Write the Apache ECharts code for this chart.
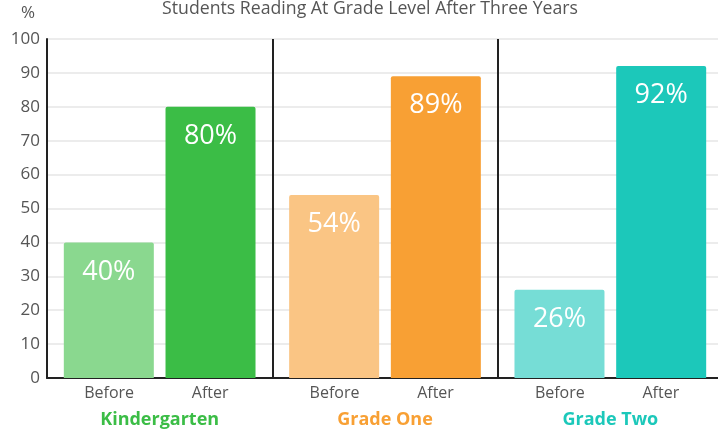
<!DOCTYPE html>
<html><head><meta charset="utf-8">
<script src="https://cdn.jsdelivr.net/npm/echarts@6/dist/echarts.min.js"></script>
<style>html,body{margin:0;padding:0;background:#fff}#c{width:718px;height:431px}</style>
</head><body><div id="c"></div>
<script>
const groups = ['Kindergarten', 'Grade One', 'Grade Two'];
const subLabels = ['Before', 'After'];
const beforeValues = [40, 54, 26];
const afterValues = [80, 89, 92];
const yTicks = [0, 10, 20, 30, 40, 50, 60, 70, 80, 90, 100];
const beforeColors = ['#8ad88f', '#fac584', '#76ddd6'];
const afterColors = ['#3bbd46', '#f8a034', '#1cc8ba'];
const groupColors = ['#3bbd46', '#f8a034', '#1cc8ba'];

const font = 'Open Sans';
const chart = echarts.init(document.getElementById('c'));
const rich = {
  bf: {width: 101, align: 'center', color: '#555', fontSize: 16, fontFamily: font, lineHeight: 22},
  af: {width: 101, align: 'center', color: '#555', fontSize: 16, fontFamily: font, lineHeight: 22}
};
groups.forEach((g, i) => {
  rich['g' + i] = {color: groupColors[i], fontSize: 18, fontWeight: 'bold', fontFamily: font, lineHeight: 32};
});
function mk(vals, colors) {
  return vals.map((v, i) => ({value: v, itemStyle: {color: colors[i]}}));
}
const lbl = {
  show: true, position: 'insideTop', distance: 16, color: '#fff', fontSize: 27,
  fontFamily: font, formatter: p => p.value + '%'
};
chart.setOption({
  animation: false,
  title: {
    text: 'Students Reading At Grade Level After Three Years', left: 365, textAlign: 'center', top: -5,
    textStyle: {color: '#555', fontSize: 17.7, fontWeight: 'normal', fontFamily: font}
  },
  grid: {left: 47, width: 676, top: 39, bottom: 53, containLabel: false, outerBoundsMode: 'none'},
  xAxis: {
    type: 'category', data: groups,
    axisLine: {show: true, lineStyle: {color: '#222', width: 2}},
    axisTick: {show: false},
    splitLine: {show: true, lineStyle: {color: '#222', width: 2}},
    axisLabel: {
      margin: 4, interval: 0,
      formatter: (v, i) => '{bf|' + subLabels[0] + '}{af|' + subLabels[1] + '}\n{g' + i + '|' + v + '}',
      rich: rich
    }
  },
  yAxis: {
    type: 'value', min: yTicks[0], max: yTicks[yTicks.length - 1], interval: 10,
    name: '%', nameGap: 17,
    nameTextStyle: {color: '#555', fontSize: 17, fontFamily: font, align: 'right', padding: [0, 12, 0, 0]},
    axisLine: {show: true, lineStyle: {color: '#222', width: 2}},
    axisTick: {show: false},
    axisLabel: {color: '#555', fontSize: 17, fontFamily: font, margin: 7},
    splitLine: {lineStyle: {color: '#e6e6e6', width: 1.5}}
  },
  series: [
    {name: 'Before', type: 'bar', data: mk(beforeValues, beforeColors), barWidth: 90, barGap: '13%',
     itemStyle: {borderRadius: [2, 2, 0, 0]}, label: lbl},
    {name: 'After', type: 'bar', data: mk(afterValues, afterColors), barWidth: 90, barGap: '13%',
     itemStyle: {borderRadius: [2, 2, 0, 0]}, label: lbl}
  ]
});
</script></body></html>
